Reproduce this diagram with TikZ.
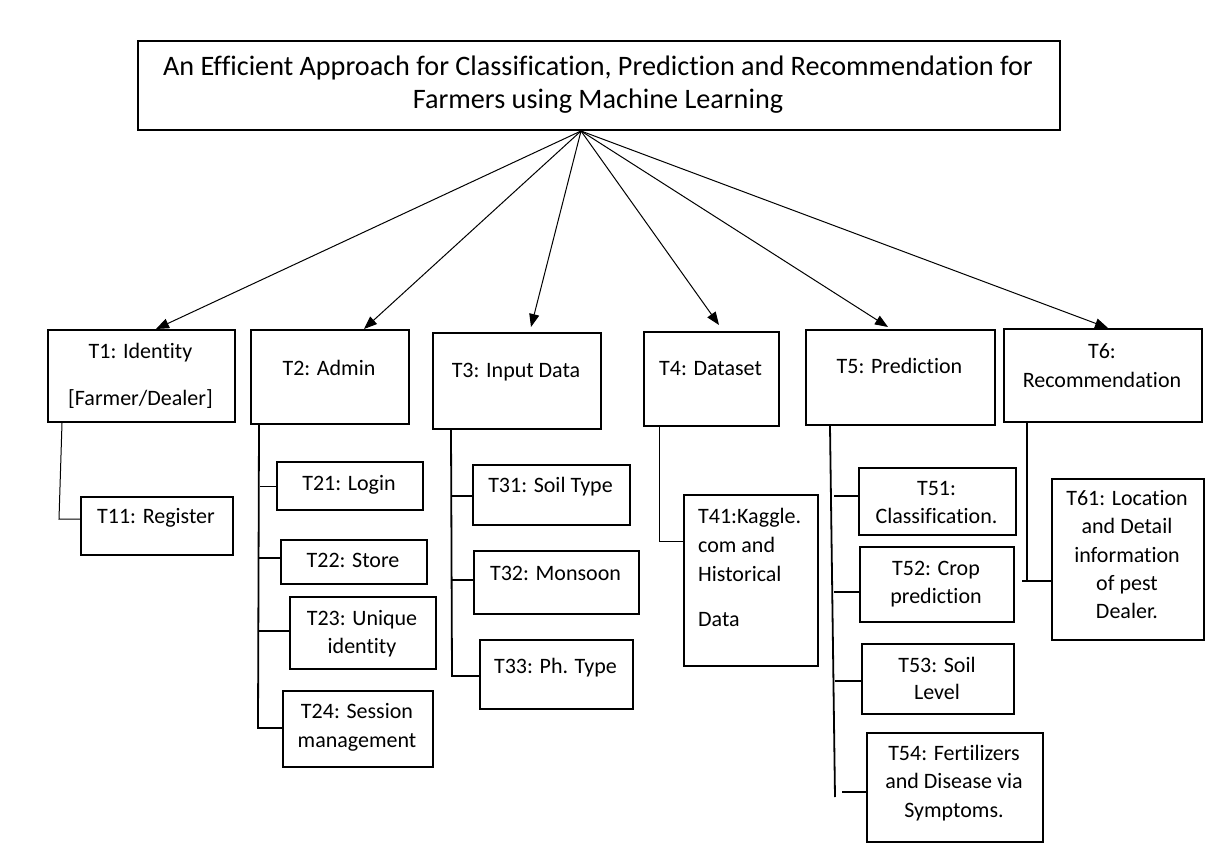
\documentclass[tikz,border=0pt]{standalone}
\usepackage{fontspec}
\setmainfont{Carlito}[Ligatures=NoCommon]
\usetikzlibrary{arrows.meta,calc}
\begin{document}
\begin{tikzpicture}[x=1pt,y=-1pt,
  box/.style={draw,line width=2pt,inner sep=0pt,anchor=north west},
  txt/.style={inner sep=0pt,anchor=base,font=\fontsize{22}{28.5}\selectfont},
  ttl/.style={inner sep=0pt,anchor=base,font=\fontsize{28.2}{34}\selectfont},
  conn/.style={line width=1.8pt},
  thinconn/.style={line width=1pt},
  arr/.style={line width=1pt,-{Triangle[length=13pt,width=10pt]}}]
\useasboundingbox (0,0) rectangle (1211,845);
% title
\node[box,minimum width=922pt,minimum height=89pt] (title) at (137,40) {};
\node[ttl] (ttl1) at (598,76) {An Efficient Approach for Classification, Prediction and Recommendation for};
\node[ttl] (ttl2) at (598,109) {Farmers using Machine Learning};
% level 1 boxes
\node[box,minimum width=187pt,minimum height=92pt] (t1) at (47,329) {};
\node[box,minimum width=158pt,minimum height=94pt] (t2) at (250,329) {};
\node[box,minimum width=168pt,minimum height=96pt] (t3) at (432,332) {};
\node[box,minimum width=135pt,minimum height=94pt] (t4) at (643,331) {};
\node[box,minimum width=189pt,minimum height=95pt] (t5) at (805,329) {};
\node[box,minimum width=198pt,minimum height=93pt] (t6) at (1003,328) {};
\node[txt] (t1a) at (140.5,359) {T1: Identity};
\node[txt] (t1b) at (140.5,405) {[Farmer/Dealer]};
\node[txt] (t2a) at (329,375) {T2: Admin};
\node[txt] (t3a) at (516,377) {T3: Input Data};
\node[txt] (t4a) at (710.5,375) {T4: Dataset};
\node[txt] (t5a) at (899.5,373) {T5: Prediction};
\node[txt] (t6a) at (1102,358) {T6:};
\node[txt] (t6b) at (1102,387) {Recommendation};
% arrows
\coordinate (apex) at ([xshift=-18pt]title.south);
\draw[arr] (apex) -- ([xshift=14.5pt]t1.north);
\draw[arr] (apex) -- ([xshift=34pt]t2.north);
\draw[arr] (apex) -- ([xshift=14pt,yshift=5pt]t3.north);
\draw[arr] (apex) -- ([xshift=7.5pt,yshift=6pt]t4.north);
\draw[arr] (apex) -- ([xshift=-12.5pt,yshift=2pt]t5.north);
\draw[arr] (apex) -- ([xshift=5pt]t6.north);
% T1 children
\node[box,minimum width=152pt,minimum height=58pt] (t11) at (80,496) {};
\node[txt] (t11a) at (156,523) {T11: Register};
\coordinate (c1) at (59,519);
\draw[thinconn] ([xshift=15pt]t1.south west) -- (c1) -- (c1 -| t11.west);
% T2 children
\node[box,minimum width=146pt,minimum height=48pt] (t21) at (276,461) {};
\node[box,minimum width=146pt,minimum height=44pt] (t22) at (280,539) {};
\node[box,minimum width=146pt,minimum height=72pt] (t23) at (289,596) {};
\node[box,minimum width=150pt,minimum height=76pt] (t24) at (282,690) {};
\node[txt] (t21a) at (349,490) {T21: Login};
\node[txt] (t22a) at (353,567) {T22: Store};
\node[txt] (t23a) at (362,625) {T23: Unique};
\node[txt] (t23b) at (362,653) {identity};
\node[txt] (t24a) at (357,718) {T24: Session};
\node[txt] (t24b) at (357,747) {management};
\coordinate (c2) at (258,728);
\draw[conn] ([xshift=9pt]t2.south west) -- (c2) -- (c2 -| t24.west);
\coordinate (b21) at (260,486);
\draw[thinconn] (b21) -- (t21.west);
\coordinate (b22) at (258,558);
\draw[conn] (b22) -- (b22 -| t22.west);
\coordinate (b23) at (258,631);
\draw[conn] (b23) -- (b23 -| t23.west);
% T3 children
\node[box,minimum width=157pt,minimum height=60pt] (t31) at (472,464) {};
\node[box,minimum width=165pt,minimum height=63pt] (t32) at (473,550) {};
\node[box,minimum width=153pt,minimum height=69pt] (t33) at (479,639) {};
\node[txt] (t31a) at (550.5,492) {T31: Soil Type};
\node[txt] (t32a) at (555.5,580) {T32: Monsoon};
\node[txt] (t33a) at (555.5,673) {T33: Ph. Type};
\coordinate (c3) at (452,676);
\draw[conn] ([xshift=19pt]t3.south west) -- (c3) -- (c3 -| t33.west);
\coordinate (b31) at (451,496);
\draw[conn] (b31) -- (b31 -| t31.west);
\coordinate (b32) at (451,580);
\draw[conn] (b32) -- (b32 -| t32.west);
% T4 children
\node[box,minimum width=134pt,minimum height=171pt] (t41) at (683,494) {};
\node[txt,anchor=base west] (t41a) at (698,523) {T41:Kaggle.};
\node[txt,anchor=base west] (t41b) at (698,552) {com and};
\node[txt,anchor=base west] (t41c) at (698,581) {Historical};
\node[txt,anchor=base west] (t41d) at (698,626) {Data};
\coordinate (c4) at (659,541);
\draw[thinconn] ([xshift=16pt]t4.south west) -- (c4) -- (c4 -| t41.west);
% T5 children
\node[box,minimum width=157pt,minimum height=67pt] (t51) at (858,467) {};
\node[box,minimum width=154pt,minimum height=75pt] (t52) at (859,546) {};
\node[box,minimum width=152pt,minimum height=70pt] (t53) at (861,643) {};
\node[box,minimum width=176pt,minimum height=109pt] (t54) at (866,732) {};
\node[txt] (t51a) at (936.5,495) {T51:};
\node[txt] (t51b) at (936.5,523) {Classification.};
\node[txt] (t52a) at (936,575) {T52: Crop};
\node[txt] (t52b) at (936,603) {prediction};
\node[txt] (t53a) at (937,672) {T53: Soil};
\node[txt] (t53b) at (937,699) {Level};
\node[txt] (t54a) at (954,760) {T54: Fertilizers};
\node[txt] (t54b) at (954,788) {and Disease via};
\node[txt] (t54c) at (954,817) {Symptoms.};
\coordinate (c5) at (835,797);
\draw[conn] ([xshift=25pt]t5.south west) -- (c5);
\coordinate (b51) at (834,496);
\draw[conn] (b51) -- (b51 -| t51.west);
\coordinate (b52) at (834,592);
\draw[conn] (b52) -- (b52 -| t52.west);
\coordinate (b53) at (835,681);
\draw[conn] (b53) -- (b53 -| t53.west);
\coordinate (b54) at (842,792);
\draw[conn] (b54) -- (b54 -| t54.west);
% T6 children
\node[box,minimum width=152pt,minimum height=161pt] (t61) at (1051,478) {};
\node[txt] (t61a) at (1127,505) {T61: Location};
\node[txt] (t61b) at (1127,533) {and Detail};
\node[txt] (t61c) at (1127,562) {information};
\node[txt] (t61d) at (1127,590) {of pest};
\node[txt] (t61e) at (1127,618) {Dealer.};
\coordinate (c6) at (1027,581);
\draw[conn] ([xshift=24pt]t6.south west) -- (c6);
\draw[conn] ([xshift=-5pt]c6) -- (c6 -| t61.west);
\end{tikzpicture}
\end{document}
